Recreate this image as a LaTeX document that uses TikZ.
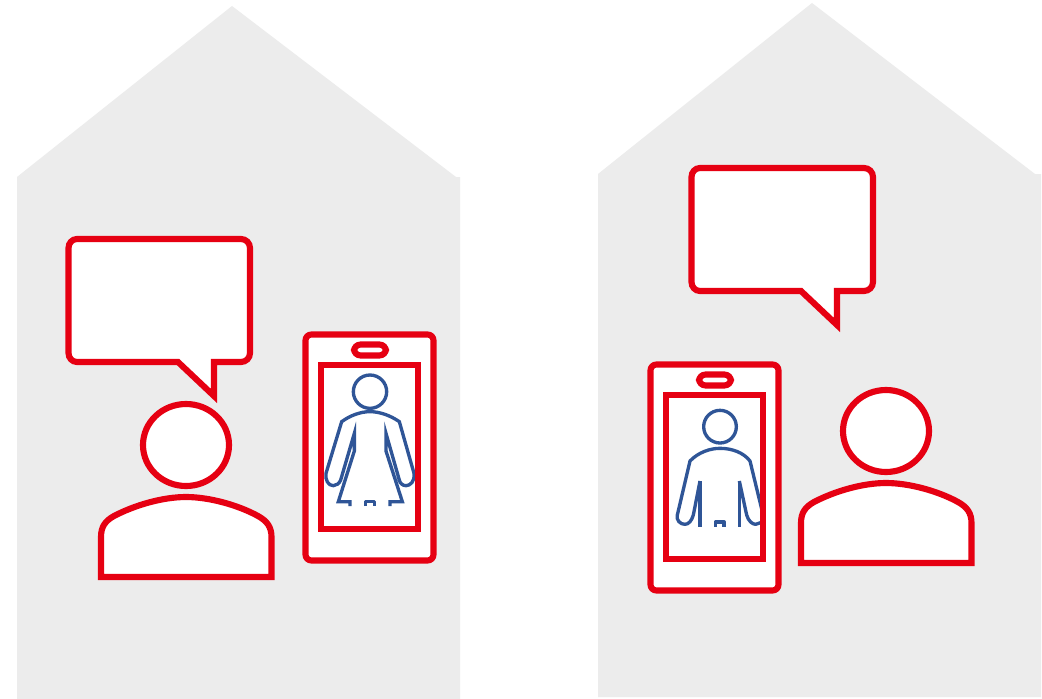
\documentclass[tikz,border=0pt]{standalone}
\definecolor{wallgray}{HTML}{ECECEC}
\definecolor{signred}{HTML}{E60012}
\definecolor{figblue}{HTML}{2F5597}
\tikzset{
  house/.style={fill=wallgray,draw=none},
  redline/.style={draw=signred,line width=4.6pt,fill=white,line join=miter},
  figline/.style={draw=figblue,line width=2.5pt,line join=round,line cap=butt},
  figsharp/.style={draw=figblue,line width=2.5pt,line join=miter,miter limit=20,line cap=butt},
  figfill/.style={fill=white,draw=none},
  bubble/.pic={
    \draw[redline] (77,239) -- (241,239) to[out=0,in=90] (250,248) -- (250,353) to[out=-90,in=0] (241,362) -- (214,362) -- (214,396) -- (178,362) -- (77,362) to[out=180,in=-90] (68.5,353) -- (68.5,248) to[out=90,in=180] (77,239) -- cycle;
  },
  person/.pic={
    \draw[redline] (186,445) ellipse [x radius=43,y radius=41];
    \draw[redline] (101,577) -- (101,537) .. controls (101,527) and (105,521) .. (114,516) .. controls (135,505) and (163,497) .. (186,497) .. controls (209,497) and (238,505) .. (258,516) .. controls (267,521) and (271.5,527) .. (271.5,537) -- (271.5,577) -- cycle;
  },
  phonebody/.pic={
    \draw[redline,rounded corners=4.5pt] (305.5,334.5) rectangle (433.5,560.5);
    \draw[redline,rounded corners=5pt] (354,344.5) rectangle (386,355.5);
  },
  phoneframe/.pic={
    \draw[draw=signred,line width=4.6pt,fill=none] (321,365) rectangle (418,529);
  }
}
\begin{document}
\begin{tikzpicture}[x=0.75pt,y=-0.75pt]
\useasboundingbox (0,0) rectangle (1042,699);
\fill[white] (0,0) rectangle (1042,699);
% houses
\fill[house] (17,177) -- (232,6) -- (456,177) -- (460,177) -- (460,699) -- (17,699) -- cycle;
\fill[house] (598,174) -- (812,3) -- (1035,174) -- (1041,174) -- (1041,697) -- (598,697) -- cycle;
% left side
\pic at (0,0) {bubble};
\pic at (0,0) {person};
\pic at (0,0) {phonebody};
% woman
\begin{scope}[shift={(300,325)},x=0.25pt,y=-0.25pt]
  \fill[figfill] (78,445) -- (125,290) .. controls (150,272) and (180,260) .. (210,260) .. controls (240,260) and (272,272) .. (298,290) -- (342,445) .. controls (345,470) and (330,482) .. (318,482) .. controls (308,482) and (300,475) .. (298,465) -- (258,325) -- (258,378) -- (307,530) -- (270,542) -- (150,542) -- (115,530) -- (163,378) -- (163,325) -- (122,465) .. controls (118,475) and (110,482) .. (100,482) .. controls (85,482) and (75,465) .. (78,445) -- cycle;
  \draw[figsharp] (150,543) -- (150,530) -- (115,530) -- (163,378) -- (163,325) -- (122,465) .. controls (118,475) and (110,482) .. (100,482) .. controls (85,482) and (75,465) .. (78,445) -- (125,290) .. controls (150,272) and (180,260) .. (210,260) .. controls (240,260) and (272,272) .. (298,290) -- (342,445) .. controls (345,470) and (330,482) .. (318,482) .. controls (308,482) and (300,475) .. (298,465) -- (258,325) -- (258,378) -- (307,530) -- (270,530) -- (270,543);
  \draw[figline] (197,543) -- (197,530) -- (224,530) -- (224,543);
  \filldraw[figline,fill=white] (210,200) circle [radius=50];
\end{scope}
\pic at (0,0) {phoneframe};
% right side
\pic at (623,-71) {bubble};
\pic at (700,-14) {person};
\pic at (345,30) {phonebody};
% man
\begin{scope}[shift={(645,355)},x=0.25pt,y=-0.25pt]
  \begin{scope}
  \clip (60,120) rectangle (345,515);
  \fill[figfill] (97,480) -- (135,318) .. controls (160,292) and (195,280) .. (225,280) .. controls (260,280) and (295,292) .. (315,318) -- (345,440) -- (345,500) -- (330,508) .. controls (318,508) and (308,498) .. (305,480) -- (283,378) -- (283,515) -- (165,515) -- (165,380) -- (145,480) .. controls (140,498) and (130,508) .. (120,508) .. controls (105,508) and (93,495) .. (97,480) -- cycle;
  \draw[figline] (165,378) -- (145,480) .. controls (140,498) and (130,508) .. (120,508) .. controls (105,508) and (93,495) .. (97,480) -- (135,318) .. controls (160,292) and (195,280) .. (225,280) .. controls (260,280) and (295,292) .. (315,318) -- (350,462);
  \draw[figline] (283,378) -- (305,480) .. controls (310,498) and (322,508) .. (332,508) -- (350,502);
  \draw[figline] (165,378) -- (165,516);
  \draw[figline] (283,378) -- (283,516);
  \draw[figline] (211,516) -- (211,501) -- (237,501) -- (237,516);
  \end{scope}
  \filldraw[figline,fill=white] (225,215) circle [radius=49];
\end{scope}
\pic at (345,30) {phoneframe};
\end{tikzpicture}
\end{document}
